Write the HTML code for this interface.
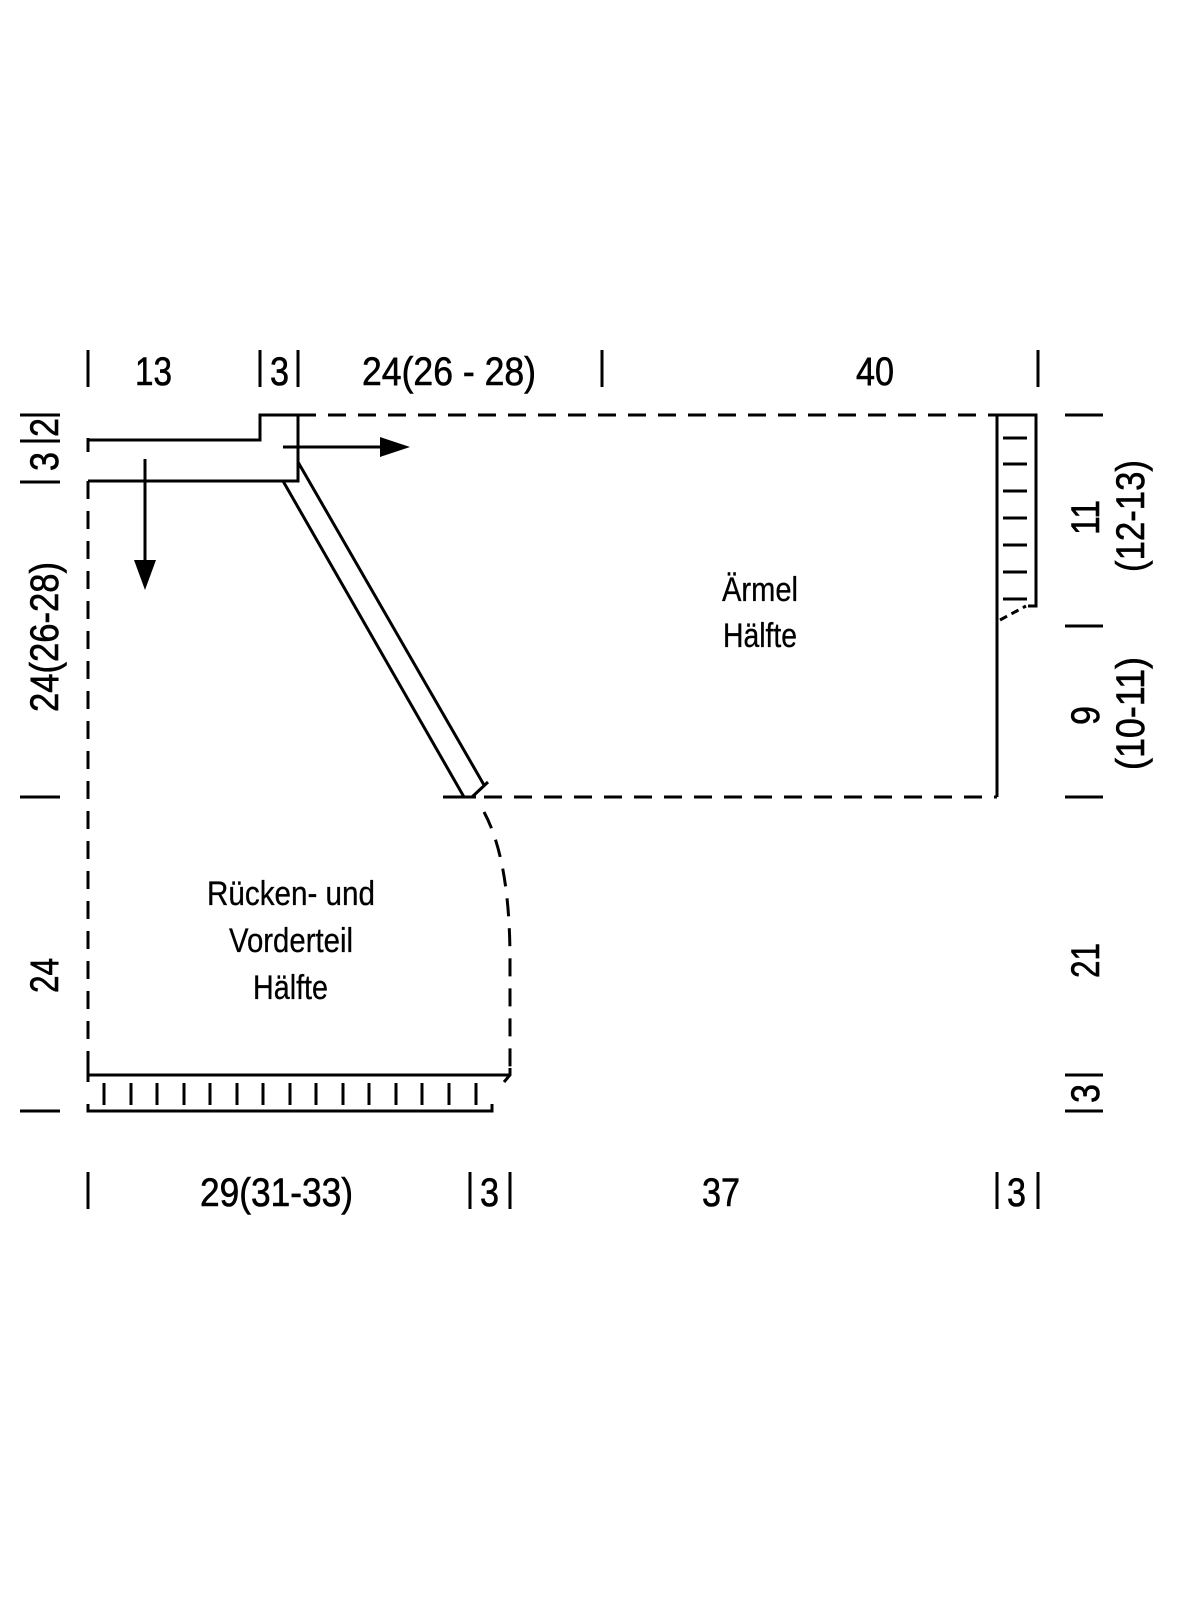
<!DOCTYPE html>
<html><head><style>
html,body{margin:0;padding:0;background:#fff;}
svg{display:block;}
text{font-family:"Liberation Sans",sans-serif;fill:#000;stroke:#000;stroke-width:0.6;}
.b{font-size:40px;}
.m{font-size:34px;stroke-width:0.3;}
</style></head><body>
<svg width="1200" height="1600" viewBox="0 0 1200 1600" xmlns="http://www.w3.org/2000/svg">
<g stroke="#000" stroke-width="3" fill="none">
<path d="M88 350V387M260 350V387M298 350V387M602 350V387M1038 350V387"/>
<path d="M88 1172V1209M470 1172V1209M510 1172V1209M997 1172V1209M1038 1172V1209"/>
<path d="M20 415H60M20 441H60M20 482H60M20 797H60M20 1111H60"/>
<path d="M1065 415H1103M1065 626H1103M1065 797H1103M1065 1075H1103M1065 1111H1103"/>
<path d="M88 440H260V415H298V481H88"/>
<path d="M88 438V452"/>
<path d="M298 415H1038" stroke-dasharray="18,12"/>
<path d="M298 462L484 785M283 481L464 797"/>
<path d="M472 797L488 782M443 797H476"/>
<path d="M997 415V797"/>
<path d="M997 415H1036V606H1028"/>
<path d="M1003 438H1027M1003 464H1027M1003 491H1027M1003 518H1027M1003 545H1027M1003 572H1027M1003 599H1027"/>
<path d="M1000 620L1026 606" stroke-dasharray="8,5"/>
<path d="M484 797H997" stroke-dasharray="18,12"/>
<path d="M88 481V1075" stroke-dasharray="18,12"/>
<path d="M484 812Q510 860 510 960V1075" stroke-dasharray="18,12"/>
<path d="M88 1068V1082M88 1075H510M504 1082L510 1075V1068"/>
<path d="M88 1104V1111H492V1104"/>
<path d="M104 1083V1105M131 1083V1105M157 1083V1105M184 1083V1105M210 1083V1105M237 1083V1105M263 1083V1105M290 1083V1105M316 1083V1105M343 1083V1105M369 1083V1105M396 1083V1105M422 1083V1105M449 1083V1105M476 1083V1105"/>
<path d="M283 447H385"/>
<path d="M145 459V565"/>
</g>
<polygon points="410,447 380,437 380,457" fill="#000"/>
<polygon points="145,590 134,560 156,560" fill="#000"/>
<text class="b" x="135" y="385" textLength="37" lengthAdjust="spacingAndGlyphs">13</text>
<text class="b" x="270" y="385" textLength="19" lengthAdjust="spacingAndGlyphs">3</text>
<text class="b" x="362" y="385" textLength="174" lengthAdjust="spacingAndGlyphs">24(26 - 28)</text>
<text class="b" x="856" y="385" textLength="38" lengthAdjust="spacingAndGlyphs">40</text>
<text class="b" x="200" y="1206" textLength="153" lengthAdjust="spacingAndGlyphs">29(31-33)</text>
<text class="b" x="480" y="1206" textLength="19" lengthAdjust="spacingAndGlyphs">3</text>
<text class="b" x="702" y="1206" textLength="38" lengthAdjust="spacingAndGlyphs">37</text>
<text class="b" x="1007" y="1206" textLength="19" lengthAdjust="spacingAndGlyphs">3</text>
<text class="b" transform="translate(58,471) rotate(-90)" textLength="19" lengthAdjust="spacingAndGlyphs">3</text>
<text class="b" transform="translate(58,437) rotate(-90)" textLength="19" lengthAdjust="spacingAndGlyphs">2</text>
<text class="b" transform="translate(58,712) rotate(-90)" textLength="150" lengthAdjust="spacingAndGlyphs">24(26-28)</text>
<text class="b" transform="translate(58,993) rotate(-90)" textLength="35" lengthAdjust="spacingAndGlyphs">24</text>
<text class="b" transform="translate(1099,535) rotate(-90)" textLength="35" lengthAdjust="spacingAndGlyphs">11</text>
<text class="b" transform="translate(1144,572) rotate(-90)" textLength="112" lengthAdjust="spacingAndGlyphs">(12-13)</text>
<text class="b" transform="translate(1099,725) rotate(-90)" textLength="19" lengthAdjust="spacingAndGlyphs">9</text>
<text class="b" transform="translate(1144,770) rotate(-90)" textLength="113" lengthAdjust="spacingAndGlyphs">(10-11)</text>
<text class="b" transform="translate(1099,978) rotate(-90)" textLength="35" lengthAdjust="spacingAndGlyphs">21</text>
<text class="b" transform="translate(1099,1103) rotate(-90)" textLength="19" lengthAdjust="spacingAndGlyphs">3</text>
<text class="m" x="722" y="601" textLength="76" lengthAdjust="spacingAndGlyphs">Ärmel</text>
<text class="m" x="723" y="647" textLength="74" lengthAdjust="spacingAndGlyphs">Hälfte</text>
<text class="m" x="207" y="905" textLength="168" lengthAdjust="spacingAndGlyphs">Rücken- und</text>
<text class="m" x="229" y="952" textLength="124" lengthAdjust="spacingAndGlyphs">Vorderteil</text>
<text class="m" x="253" y="999" textLength="75" lengthAdjust="spacingAndGlyphs">Hälfte</text>
</svg>
</body></html>
